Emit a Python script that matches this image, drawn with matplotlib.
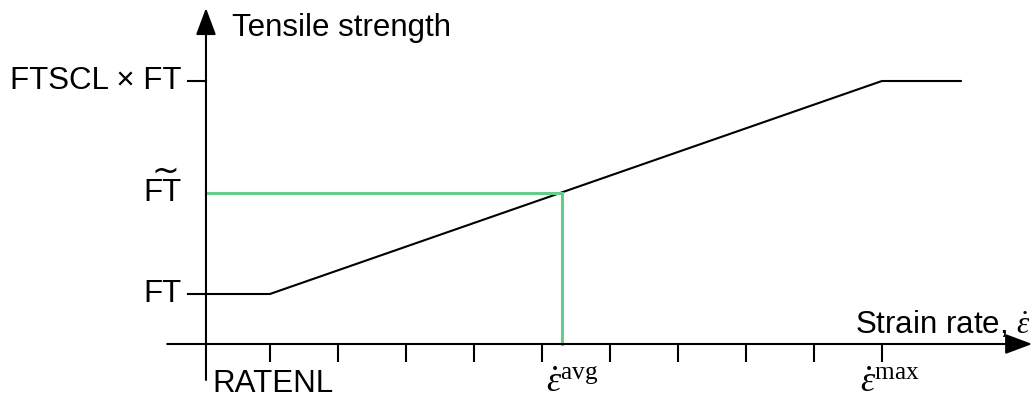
import numpy as np
import matplotlib
matplotlib.use("Agg")
import matplotlib.pyplot as plt

plt.rcParams["font.family"] = ["Liberation Sans", "DejaVu Sans"]
plt.rcParams["mathtext.fontset"] = "custom"
plt.rcParams["mathtext.rm"] = "Liberation Serif"
plt.rcParams["mathtext.it"] = "Liberation Serif:italic"
plt.rcParams["mathtext.sf"] = "Liberation Sans"

# ── data (x: strain rate, y: tensile strength, arbitrary units) ───────────────
x_ticks   = 0.94 + np.arange(10)          # tick marks on strain-rate axis
rate_nl   = 0.94                          # RATENL
rate_avg  = 5.235                         # eps_dot avg
rate_max  = 9.94                          # eps_dot max
ft        = 1.0                           # FT
ft_scl    = 5.26                          # FTSCL x FT
ft_avg    = 3.03                          # FT tilde
curve_x   = [-0.265, rate_nl, rate_max, 11.1]
curve_y   = [ft, ft, ft_scl, ft_scl]

GREEN = "#64cd8c"
FS    = 22.5

fig = plt.figure(figsize=(10.36, 3.98), dpi=100)
ax = fig.add_axes([0, 0, 1, 1])
ax.set_xlim(-3.029, 12.206)
ax.set_ylim(-1.08, 6.88)
ax.axis("off")

# axes with arrows
arrow = dict(arrowstyle="-|>,head_length=0.83,head_width=0.31",
             mutation_scale=20, lw=1.5, color="black",
             shrinkA=0, shrinkB=0)
ax.annotate("", xy=(12.15, 0), xytext=(-0.57, 0), arrowprops=arrow)
ax.annotate("", xy=(0, 6.72), xytext=(0, -0.72), arrowprops=arrow)

# ticks
for xt in x_ticks:
    ax.plot([xt, xt], [0, -0.36], color="black", lw=1.5, solid_capstyle="butt")
ax.plot([-0.265, 0], [ft_scl, ft_scl], color="black", lw=1.5)

# strength curve
ax.plot(curve_x, curve_y, color="black", lw=1.5)

# average guide lines
ax.plot([0, rate_avg, rate_avg], [ft_avg, ft_avg, 0], color=GREEN, lw=2.2,
        solid_joinstyle="miter")

# labels
ax.text(0.39, 6.16, "Tensile strength", fontsize=FS, ha="left", va="baseline")
ax.text(9.54, 0.22, r"Strain rate, $\dot{\varepsilon}$", fontsize=FS,
        ha="left", va="baseline")
ax.text(-0.353, ft_scl, "FTSCL × FT", fontsize=FS, ha="right", va="center")
ax.text(-0.353, ft_avg, "FT", fontsize=FS, ha="right", va="center")
ax.text(-0.60, ft_avg + 0.43, "~", fontsize=24, family="DejaVu Sans",
        ha="center", va="center")
ax.text(-0.353, ft, "FT", fontsize=FS, ha="right", va="center")
ax.text(0.09, -0.50, "RATENL", fontsize=FS, ha="left", va="top")
ax.text(5.38, -0.42, r"$\dot{\varepsilon}^{\mathrm{avg}}$",
        fontsize=26, ha="center", va="top")
ax.text(10.06, -0.42, r"$\dot{\varepsilon}^{\mathrm{max}}$",
        fontsize=26, ha="center", va="top")

fig.savefig("out.png", dpi=100)
